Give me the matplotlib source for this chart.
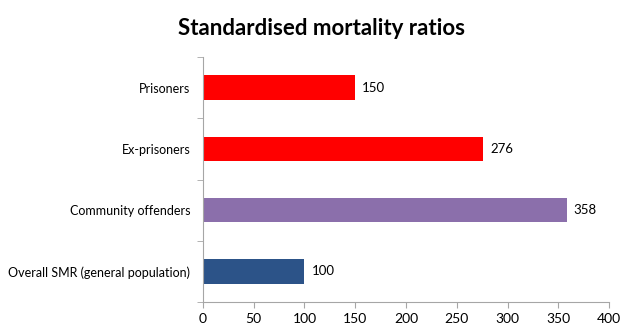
import matplotlib.pyplot as plt

categories = ['Prisoners', 'Ex-prisoners', 'Community offenders', 'Overall SMR (general population)']
smr = [150, 276, 358, 100]
bar_colors = ['#FF0000', '#FF0000', '#8B6FAB', '#2C5388']
x_ticks = [0, 50, 100, 150, 200, 250, 300, 350, 400]

plt.rcParams['font.family'] = ['Lato', 'DejaVu Sans']

fig = plt.figure(figsize=(6.3, 3.34), dpi=100)
ax = fig.add_axes([0.322, 0.096, 0.645, 0.733])

pos = list(range(len(categories)))[::-1]
ax.barh(pos, smr, height=0.4, color=bar_colors)
for p, v in zip(pos, smr):
    ax.text(v + 7, p, str(v), va='center', ha='left', fontsize=9.5, color='black')

ax.set_xlim(0, 400)
ax.set_ylim(-0.5, len(categories) - 0.5)
ax.set_xticks(x_ticks)
ax.set_xticklabels([str(t) for t in x_ticks], fontsize=10)
ax.set_yticks(pos)
ax.set_yticklabels(categories, fontsize=9)
ax.tick_params(axis='y', length=0, pad=9)
ax.tick_params(axis='x', length=4, color='#A6A6A6', pad=4)
# category boundary ticks on the left axis
ax.set_yticks([p - 0.5 for p in range(len(categories) + 1)], minor=True)
ax.tick_params(axis='y', which='minor', length=4, color='#A6A6A6')

for s in ['top', 'right']:
    ax.spines[s].set_visible(False)
for s in ['left', 'bottom']:
    ax.spines[s].set_color('#A6A6A6')

fig.text(0.51, 0.915, 'Standardised mortality ratios', ha='center', va='center',
         fontsize=16, fontweight='bold')

fig.savefig('out.png', dpi=100)
